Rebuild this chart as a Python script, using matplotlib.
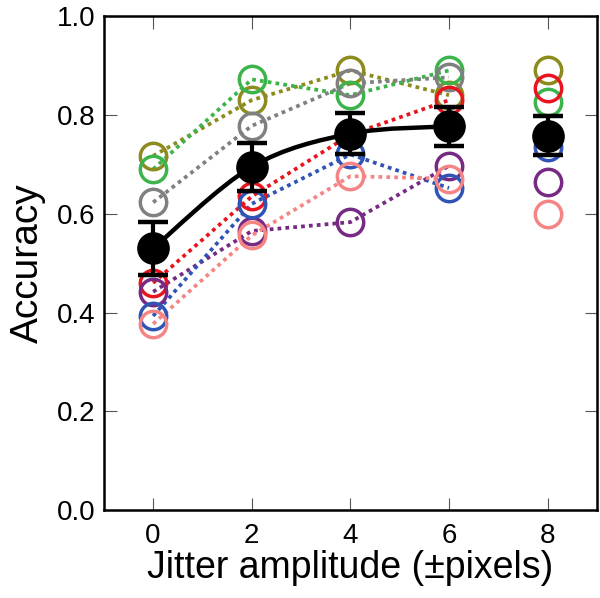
import numpy as np
import matplotlib
matplotlib.use("Agg")
import matplotlib.pyplot as plt
from matplotlib.path import Path
from matplotlib.patches import PathPatch

plt.rcParams['font.family'] = ['Liberation Sans', 'DejaVu Sans']

# jitter amplitudes (pixels)
jitter = [0, 2, 4, 6, 8]

# per-subject accuracy (nan = not measured)
olive = [0.717, 0.830, 0.890, 0.840, 0.890]
green = [0.690, 0.872, 0.840, 0.890, 0.827]
grey = [0.623, 0.778, 0.864, 0.876, np.nan]
red = [0.460, 0.635, 0.760, 0.830, 0.854]
purple = [0.442, 0.565, 0.583, 0.697, 0.665]
blue = [0.393, 0.620, 0.720, 0.652, 0.735]
pink = [0.377, 0.556, 0.676, 0.671, 0.600]

# group mean and error
mean_acc = [0.530, 0.695, 0.762, 0.777, 0.758]
err_acc = [0.054, 0.049, 0.041, 0.040, 0.039]

subjects = [
    (olive, '#8b8b1e'),
    (green, '#3cb44b'),
    (grey, '#808080'),
    (red, '#e8141e'),
    (purple, '#762a83'),
    (blue, '#2f54b5'),
    (pink, '#f58585'),
]

fig = plt.figure(figsize=(6, 5.98), dpi=100)
ax = fig.add_axes([0.173, 0.147, 0.822, 0.826])

# dotted lines connect 0..6, the 8 px points stand alone
for vals, col in subjects:
    ax.plot(jitter[:4], vals[:4], ls=(0, (1, 1.1)), color=col, lw=2.7, zorder=2)
for vals, col in subjects:
    ax.plot(jitter, vals, 'o', mfc='none', mec=col, mew=2.5, ms=19, zorder=3)

# smooth curve through the means at 0..6 (Catmull-Rom as cubic bezier)
pts = np.column_stack([jitter[:4], mean_acc[:4]])
ext = np.vstack([pts[0], pts, pts[-1]])
verts = [tuple(pts[0])]
codes = [Path.MOVETO]
for i in range(1, len(ext) - 2):
    p0, p1, p2, p3 = ext[i - 1], ext[i], ext[i + 1], ext[i + 2]
    c1 = p1 + (p2 - p0) / 6.0
    c2 = p2 - (p3 - p1) / 6.0
    verts += [tuple(c1), tuple(c2), tuple(p2)]
    codes += [Path.CURVE4] * 3
ax.add_patch(PathPatch(Path(verts, codes), fill=False, edgecolor='black',
                       lw=3.2, zorder=4))

ax.errorbar(jitter, mean_acc, yerr=err_acc, fmt='o', color='black',
            ms=22.5, elinewidth=3, capsize=11, capthick=3.2, zorder=5)

ax.set_xlim(-1, 9)
ax.set_ylim(0, 1)
ax.set_xticks(jitter)
ax.set_yticks([0.0, 0.2, 0.4, 0.6, 0.8, 1.0])
ax.set_yticklabels(['0.0', '0.2', '0.4', '0.6', '0.8', '1.0'])
ax.tick_params(direction='in', length=9, width=0.8, labelsize=20,
               top=True, right=True, color='#555555')
ax.tick_params(axis='x', pad=9)
ax.tick_params(axis='y', pad=6)
for sp in ax.spines.values():
    sp.set_linewidth(1.8)
ax.set_xlabel('Jitter amplitude (\u00b1pixels)', fontsize=27, labelpad=1)
ax.set_ylabel('Accuracy', fontsize=28, labelpad=8)

fig.savefig('out.png', dpi=100)
